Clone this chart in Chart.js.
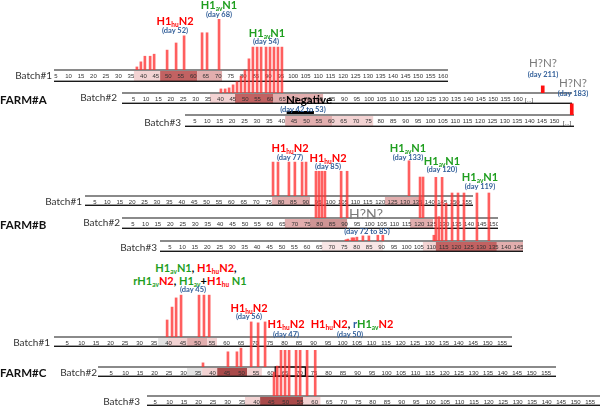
<!DOCTYPE html>
<html>
<head>
<meta charset="utf-8">
<script src="https://cdn.jsdelivr.net/npm/chart.js@4.4.0/dist/chart.umd.min.js"></script>
<style>
  html, body { margin: 0; padding: 0; background: #fff; }
  #fig { position: relative; width: 600px; height: 406px; overflow: hidden; font-family: Lato, 'Open Sans', sans-serif; }
  #fig canvas { position: absolute; }
  .t { position: absolute; white-space: nowrap; line-height: 1; transform: translate(-50%, -50%); }
  .t.r { transform: translate(-100%, -50%); }
  .t.l { transform: translate(0, -50%); }
  .virus { font-weight: bold; font-size: 11px; }
  .day { font-weight: bold; font-size: 7.5px; color: #33609a; }
  .unk { color: #7a7a7a; font-size: 11.5px; }
  .unk.big { font-size: 14px; }
  .batch { font-size: 10px; color: #333; }
  .farm { font-weight: bold; font-size: 11.5px; color: #111; }
  .neg { font-weight: bold; font-size: 11.5px; color: #000; }
  .dots { font-size: 6px; color: #333; font-family: 'Liberation Sans', sans-serif; }
  .red { color: #ff0000; }
  .green { color: #1e9e1e; }
  .blue { color: #2e5fa0; }
  sub { font-size: 6.5px; vertical-align: -2px; line-height: 0; }
</style>
</head>
<body>
<div id="fig"></div>
<script>
// sampling day of each positive test and % positive (relative to the farm's highest bar)
const a1Days = [37.4, 39, 40.6, 42.7, 44.3, 49.5, 53.1, 56.3, 63.5, 65.5, 70.3];
const a1Pos  = [6, 16, 27, 27, 31, 39, 53, 67, 73, 73, 100];
const a2Days = [40.2, 41.9, 43.5, 45.1, 46.7, 48.3, 49.9, 51.5, 53.1, 54.8, 56.4, 58.4, 60, 61.6, 63.2, 64.8];
const a2Pos  = [8, 8, 10, 16, 22, 33, 45, 67, 90, 90, 90, 90, 90, 90, 90, 90];
const a3Days = [];
const a3Pos  = [];
const b1Days = [76.8, 78.8, 83.2, 85.6, 88.5, 90.1, 131.6];
const b1Pos  = [53, 53, 53, 53, 53, 53, 55];
const b2Days = [78.5, 79.7, 80.9, 82.1, 88.6, 91.0, 120.3, 121.5];
const b2Pos  = [73, 73, 73, 73, 73, 73, 64, 64];
const b3Days = [75.7, 76.5, 78.1, 78.9, 80.1, 82.5, 84.9, 88.5, 90.5, 111, 111.8, 113, 114.3, 115.9, 118.3, 120.7, 123.1, 128.3, 133.1];
const b3Pos  = [2, 3, 5, 5, 6, 8, 8, 9, 9, 9, 100, 38, 100, 59, 75, 75, 75, 75, 75];
const c1Days = [39.5, 41.2, 42.6, 44.3, 50.5, 52.2, 54];
const c1Pos  = [37, 65, 85, 91, 91, 91, 91];
const c2Days = [36.7, 45.3, 48.4, 49.8, 53.3, 55.7, 58.1];
const c2Pos  = [9, 33, 33, 41, 98, 96, 98];
const c3Days = [46, 47.1, 48.4, 49.8, 51.2, 53.6, 55, 57.4, 60.2];
const c3Pos  = [52, 65, 100, 100, 100, 100, 100, 100, 100];

// H?N? detections after the break ([...]) of the time line
const a2UnkDays = [170];
const a2UnkPos  = [14];
const a3UnkDays = [157];
const a3UnkPos  = [22];

// shaded periods on each time line: [from day, to day, shade]
const a1Bands = [[36.2, 46.7, 'light'], [46.7, 61.5, 'dark'], [61.5, 71.5, 'mid']];
const a2Bands = [[35.8, 45.9, 'light'], [45.9, 61.2, 'dark'], [61.2, 81.4, 'mid']];
const a3Bands = [[41.4, 60.3, 'mid'], [60.3, 76.9, 'light']];
const b1Bands = [[76.4, 91.7, 'mid'], [121.9, 136.9, 'mid']];
const b2Bands = [[66, 76, 'mid'], [76, 91, 'deep'], [116.3, 125.5, 'mid']];
const b3Bands = [[66, 90.5, 'pale'], [106.6, 111.8, 'light'], [111.8, 136.3, 'dark'], [136.3, 147, 'mid']];
const c1Bands = [[36.4, 39.8, 'grey'], [39.8, 46.4, 'light'], [46.4, 53.3, 'mid'], [53.3, 56.7, 'light']];
const c2Bands = [[31.2, 36.4, 'grey'], [36.4, 41.6, 'light'], [41.6, 51.9, 'darker'], [51.9, 57, 'light']];
const c3Bands = [[36, 41.2, 'light'], [41.2, 56, 'darker'], [56, 62, 'light']];
const a3Negative = [42, 53];
const c2Box = [61.6, 72];

// last labelled day of each time line (ticks every 5 days from day 5)
const batchIds = ['A1', 'A2', 'A3', 'B1', 'B2', 'B3', 'C1', 'C2', 'C3'];
const lastTick = [160, 160, 150, 155, 150, 145, 155, 155, 155];

const shades = {
    pale: '#f8e6e6', light: '#f3d3d3', mid: '#e2aeae', deep: '#cf9494',
    dark: '#c26262', darker: '#a94a4a', grey: '#e3e3e3'
};

// where each time line sits on the page
const strips = {
    A1: { left: 54,  right: 448, axis: 70,  h: 12, dmin: 4.2, dmax: 162 },
    A2: { left: 122, right: 572, axis: 93,  h: 11, dmin: 0.3, dmax: 181.8 },
    A3: { left: 185, right: 574, axis: 115, h: 12, dmin: 1,   dmax: 157.9 },
    B1: { left: 85,  right: 473, axis: 196, h: 10, dmin: 1,   dmax: 157.4 },
    B2: { left: 122, right: 498, axis: 218, h: 11, dmin: 0.6, dmax: 151.6 },
    B3: { left: 160, right: 523, axis: 241, h: 11, dmin: 1,   dmax: 146.8 },
    C1: { left: 54,  right: 512, axis: 337, h: 10, dmin: 0.5, dmax: 158.4 },
    C2: { left: 98,  right: 556, axis: 367, h: 10, dmin: 0.5, dmax: 158.4 },
    C3: { left: 147, right: 600, axis: 396, h: 10, dmin: 2.2, dmax: 158.4 }
};
const farmHeight = { A: 51, B: 64, C: 46 };

const fig = document.getElementById('fig');

const stripPlugin = {
    id: 'strip',
    beforeDraw(chart, args, o) {
        const ctx = chart.ctx, a = chart.chartArea, x = chart.scales.x;
        const y0 = a.bottom;
        o.bands.forEach(b => {
            const p0 = x.getPixelForValue(b[0]), p1 = x.getPixelForValue(b[1]);
            ctx.fillStyle = shades[b[2]];
            ctx.fillRect(p0, y0, p1 - p0, o.h);
        });
        ctx.fillStyle = '#8a8a8a';
        ctx.fillRect(a.left, y0 - 1, a.right - a.left, 2);
        ctx.fillStyle = '#1a1a1a';
        ctx.fillRect(a.left, y0 + o.h - 1.4, a.right - a.left, 1.4);
    },
    afterDraw(chart, args, o) {
        const ctx = chart.ctx, a = chart.chartArea, x = chart.scales.x;
        if (o.negative) {
            const p0 = x.getPixelForValue(o.negative[0]), p1 = x.getPixelForValue(o.negative[1]);
            ctx.fillStyle = '#000';
            ctx.fillRect(p0, a.bottom - 4, p1 - p0, 3);
        }
        if (o.box) {
            const p0 = x.getPixelForValue(o.box[0]), p1 = x.getPixelForValue(o.box[1]);
            ctx.strokeStyle = '#000';
            ctx.lineWidth = 1.2;
            ctx.strokeRect(p0, a.bottom, p1 - p0, o.h - 1);
        }
    }
};

function toPoints(days, pos) {
    return days.map((d, i) => ({ x: d, y: pos[i] }));
}

function drawBatch(id, days, pos, bands, extra) {
    const s = strips[id];
    const h100 = farmHeight[id[0]];
    const w = s.right - s.left, hh = h100 + s.h;
    const last = lastTick[batchIds.indexOf(id)];
    const ticks = [];
    for (let v = 5; v <= last; v += 5) ticks.push(v);

    const cv = document.createElement('canvas');
    cv.width = w; cv.height = hh;
    cv.style.left = s.left + 'px';
    cv.style.top = (s.axis - h100) + 'px';
    cv.style.width = w + 'px';
    cv.style.height = hh + 'px';
    fig.appendChild(cv);

    const datasets = [{
        data: toPoints(days, pos),
        backgroundColor: 'rgba(255, 50, 50, 0.78)',
        barThickness: 2,
        grouped: false
    }];
    if (extra.unkDays) {
        datasets.push({
            data: toPoints(extra.unkDays, extra.unkPos),
            backgroundColor: '#ff1010',
            barThickness: 3,
            grouped: false
        });
    }

    new Chart(cv, {
        type: 'bar',
        data: { datasets: datasets },
        options: {
            responsive: false,
            devicePixelRatio: 1,
            animation: false,
            events: [],
            layout: { padding: 0 },
            plugins: {
                legend: { display: false },
                tooltip: { enabled: false },
                strip: { bands: bands, h: s.h, negative: extra.negative, box: extra.box }
            },
            scales: {
                x: {
                    type: 'linear',
                    min: s.dmin,
                    max: s.dmax,
                    offset: false,
                    grid: { display: false, drawTicks: false },
                    border: { display: false },
                    ticks: {
                        autoSkip: false,
                        maxRotation: 0,
                        minRotation: 0,
                        padding: 3,
                        color: '#333',
                        font: { size: 6, family: 'Liberation Sans' }
                    },
                    afterBuildTicks: sc => { sc.ticks = ticks.map(v => ({ value: v })); },
                    afterFit: sc => { sc.height = s.h; sc.paddingLeft = 0; sc.paddingRight = 0; }
                },
                y: { display: false, min: 0, max: 100 }
            }
        },
        plugins: [stripPlugin]
    });
}

drawBatch('A1', a1Days, a1Pos, a1Bands, {});
drawBatch('A2', a2Days, a2Pos, a2Bands, { unkDays: a2UnkDays, unkPos: a2UnkPos });
drawBatch('A3', a3Days, a3Pos, a3Bands, { unkDays: a3UnkDays, unkPos: a3UnkPos, negative: a3Negative });
drawBatch('B1', b1Days, b1Pos, b1Bands, {});
drawBatch('B2', b2Days, b2Pos, b2Bands, {});
drawBatch('B3', b3Days, b3Pos, b3Bands, {});
drawBatch('C1', c1Days, c1Pos, c1Bands, {});
drawBatch('C2', c2Days, c2Pos, c2Bands, { box: c2Box });
drawBatch('C3', c3Days, c3Pos, c3Bands, {});

// text
function txt(html, cls, x, y) {
    const d = document.createElement('div');
    d.className = 't ' + cls;
    d.innerHTML = html;
    d.style.left = x + 'px';
    d.style.top = y + 'px';
    fig.appendChild(d);
}
const hu = n => '<span class="red">H1<sub>hu</sub>N' + n + '</span>';
const av = n => '<span class="green">H1<sub>av</sub>N' + n + '</span>';

txt('Batch#1', 'batch r', 52, 75);
txt('FARM#A', 'farm l', 0, 100);
txt('Batch#2', 'batch r', 117, 97);
txt('Batch#3', 'batch r', 181, 122);
txt('Batch#1', 'batch r', 82, 201);
txt('FARM#B', 'farm l', 0, 225);
txt('Batch#2', 'batch r', 120, 222);
txt('Batch#3', 'batch r', 157, 247);
txt('Batch#1', 'batch r', 50, 342);
txt('FARM#C', 'farm l', 0, 373);
txt('Batch#2', 'batch r', 97, 372);
txt('Batch#3', 'batch r', 140, 401);

txt('[...]', 'dots', 529, 100);
txt('[...]', 'dots', 567, 123);

// farm A
txt(hu(2), 'virus', 175, 20);
txt('(day 52)', 'day', 175, 31);
txt(av(1), 'virus', 219, 4);
txt('(day 68)', 'day', 219, 14.5);
txt(av(1), 'virus', 267, 32);
txt('(day 54)', 'day', 266, 42);
txt('H?N?', 'unk', 543, 63);
txt('(day 211)', 'day', 543, 75);
txt('H?N?', 'unk', 573, 83);
txt('(day 183)', 'day', 573, 94);
txt('Negative', 'neg', 309, 100);
txt('(day 42 to 53)', 'day', 303, 110);

// farm B
txt(hu(2), 'virus', 290, 147);
txt('(day 77)', 'day', 290, 158);
txt(hu(2), 'virus', 328, 157);
txt('(day 85)', 'day', 328, 167);
txt(av(1), 'virus', 408, 147);
txt('(day 133)', 'day', 408, 158);
txt(av(1), 'virus', 442, 160);
txt('(day 120)', 'day', 442, 170);
txt(av(1), 'virus', 480, 176);
txt('(day 119)', 'day', 480, 187);
txt('H?N?', 'unk big', 366, 214);
txt('(day 72 to 85)', 'day', 367, 232);

// farm C
txt(av(1) + ', ' + hu(2) + ',', 'virus', 196, 267);
txt('<span class="green">rH1<sub>av</sub></span><span class="red">N2</span>, <span class="green">H1<sub>av</sub></span>+<span class="red">H1<sub>hu</sub></span><span class="green">&nbsp;N1</span>', 'virus', 190, 280);
txt('(day 45)', 'day', 193, 290);
txt(hu(2), 'virus', 249, 307);
txt('(day 56)', 'day', 249, 317);
txt(hu(2), 'virus', 286, 323);
txt('(day 47)', 'day', 286, 335);
txt(hu(2) + ', <span class="blue">r</span><span class="green">H1<sub>av</sub></span><span class="red">N2</span>', 'virus', 352, 323);
txt('(day 50)', 'day', 350, 335);
</script>
</body>
</html>
